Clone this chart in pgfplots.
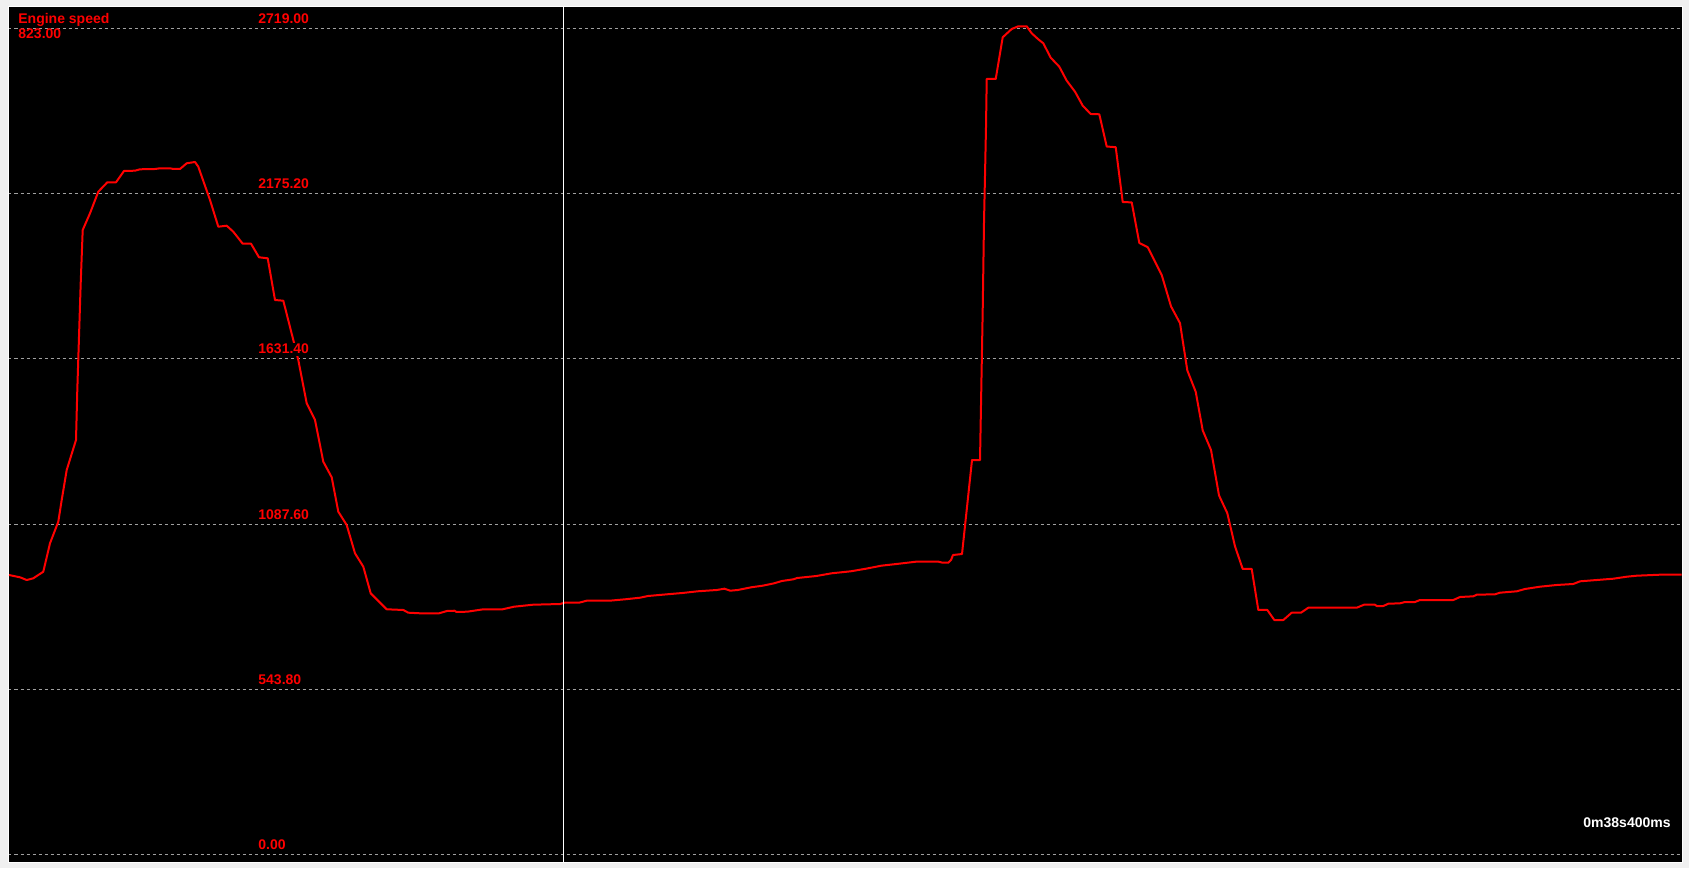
\documentclass[border=0pt]{standalone}
\usepackage{pgfplots}
\pgfplotsset{compat=1.18}
\usepackage{fontspec}
\setmainfont{Liberation Sans}
\definecolor{bggray}{HTML}{F0F0F0}
\definecolor{gridgray}{HTML}{A0A0A0}
\begin{document}
\begin{tikzpicture}
\fill[bggray] (0pt,0pt) rectangle (844.5pt,434pt);
\begin{axis}[
  at={(4.25pt,2.75pt)}, anchor=south west,
  scale only axis, width=837pt, height=428pt,
  xmin=8.5, xmax=1682.5, ymin=-28.014, ymax=2793.16,
  axis background/.style={fill=black},
  axis line style={white, line width=0.5pt},
  xtick=\empty,
  ytick={0,543.8,1087.6,1631.4,2175.2,2719},
  yticklabels={},
  major tick length=0pt,
  ymajorgrids,
  grid style={gridgray, line width=0.5pt, dash pattern=on 1.5pt off 1.5pt},
  clip=true,
]
\addplot[red, line width=1pt, line join=round] coordinates {
(9,919.5) (20,911.9) (26.7,903.0) (33.3,908.6) (43.3,930.4) (50,1024.0)
(58.3,1095.2) (61.7,1166.7) (66.7,1265.6) (76,1364.4) (77.3,1529.2)
(79,1704.9) (80.7,1880.9) (82.7,2056.5) (90,2111.6) (98.3,2182.8)
(107.3,2213.7) (116,2213.7) (124,2251.0) (135,2252.0) (140,2256.6)
(155,2257.6) (160,2259.9) (170,2259.9) (173.3,2257.6) (180,2257.6)
(186.7,2276.4) (195,2280.7) (198.3,2265.1) (210,2155.4) (218.3,2067.4)
(226.7,2070.7) (233.3,2050.9) (242.7,2011.4) (251,2011.4) (259,1966.6)
(267.7,1963.3) (275,1825.8) (283.3,1823.5) (293.3,1694.0) (298.3,1628.1)
(306.7,1485.4) (315,1430.4) (323.3,1292.9) (331.7,1241.5) (338.3,1128.1)
(346.7,1084.3) (355,991.0) (363.3,946.9) (370.7,859.2) (386.7,806.5)
(403.3,804.2) (408.3,795.3) (420,793.3) (439,793.3) (447,800.9)
(454.6,801.8) (456.5,797.6) (467.3,798.6) (483.3,806.5) (502.5,806.5)
(514,815.0) (533,821.6) (560,823.9) (564.5,828.2) (579,828.2)
(586.7,834.8) (609.6,834.8) (625,839.4) (640,844.7) (648,850.3)
(667,855.9) (682.3,860.2) (697.6,865.8) (716.8,870.1) (724.4,874.4)
(730.2,867.8) (737.8,870.1) (751.2,879.0) (762.7,884.3) (774.2,892.2)
(781.8,899.7) (793.3,905.3) (797.1,909.6) (816.3,916.2) (831.6,925.1)
(850.7,931.7) (866,940.3) (881.3,950.2) (896.6,955.8) (915.8,963.3)
(938.7,963.3) (942.6,960.1) (948.3,960.1) (951,968.9) (953,985.4)
(962,988.7) (972,1298.5) (980,1298.5) (982.7,1792.9) (984,2083.9)
(985,2237.8) (986,2397.0) (986.7,2554.2) (995.7,2554.2) (1002.7,2691.6)
(1011.7,2719.0) (1018.3,2727.9) (1026.7,2727.9) (1031.7,2704.8)
(1038.3,2685.0) (1043.3,2671.8) (1050.7,2624.4) (1059.3,2594.7)
(1066.7,2548.6) (1075,2512.3) (1082.7,2466.2) (1090.7,2438.9)
(1099.3,2437.9) (1106.7,2331.7) (1115.7,2329.4) (1122.7,2148.8)
(1131.7,2147.5) (1139.3,2013.7) (1147.7,1999.9) (1161.7,1908.2)
(1171,1804.8) (1180,1749.4) (1187.3,1593.8) (1195.7,1523.3)
(1202.7,1396.1) (1211,1331.5) (1219,1181.8) (1227.3,1123.2)
(1235,1013.8) (1242.7,939.3) (1251.7,939.3) (1258.3,804.2)
(1267.3,804.2) (1274.3,771.2) (1283.3,771.2) (1291.7,795.3)
(1301,795.3) (1308.3,811.7) (1356.7,811.7) (1364,821.6) (1375,821.6)
(1376.7,817.3) (1383.3,817.3) (1388.3,824.9) (1400,826.2) (1405,830.5)
(1415,830.5) (1420,837.1) (1453.3,837.1) (1460,847.0) (1473.3,849.3)
(1476.7,854.6) (1495,855.9) (1500,861.2) (1516.7,865.8) (1525,873.4)
(1540,881.0) (1556.7,886.6) (1573.3,889.9) (1580,898.7) (1596.7,903.0)
(1613.3,907.3) (1626.7,913.9) (1636.7,917.2) (1660,920.5) (1681.7,920.5)
};
\addplot[white, line width=0.5pt] coordinates {(563.5,-28.014) (563.5,2793.16)};
\begin{scope}[every node/.style={inner sep=0pt, anchor=base west, font=\bfseries\fontsize{7pt}{8pt}\selectfont}]
\begin{scope}[every node/.append style={fill=black, inner sep=0.75pt}]
\node[text=red, yshift=2.5pt, xshift=-0.75pt] at (axis cs:258,2719) {2719.00};
\node[text=red, yshift=2.5pt, xshift=-0.75pt] at (axis cs:258,2175.2) {2175.20};
\node[text=red, yshift=2.5pt, xshift=-0.75pt] at (axis cs:258,1631.4) {1631.40};
\node[text=red, yshift=2.5pt, xshift=-0.75pt] at (axis cs:258,1087.6) {1087.60};
\node[text=red, yshift=2.5pt, xshift=-0.75pt] at (axis cs:258,543.8) {543.80};
\node[text=red, yshift=2.5pt, xshift=-0.75pt] at (axis cs:258,0) {0.00};
\end{scope}
\node[text=red, yshift=2.5pt] at (axis cs:18,2719) {Engine speed};
\node[text=red, yshift=-5pt] at (axis cs:18,2719) {823.00};
\node[text=white, yshift=13.5pt] at (axis cs:1583,0) {0m38s400ms};
\end{scope}
\end{axis}
\pgfresetboundingbox
\useasboundingbox (0pt,0pt) rectangle (844.5pt,434pt);
\end{tikzpicture}
\end{document}
